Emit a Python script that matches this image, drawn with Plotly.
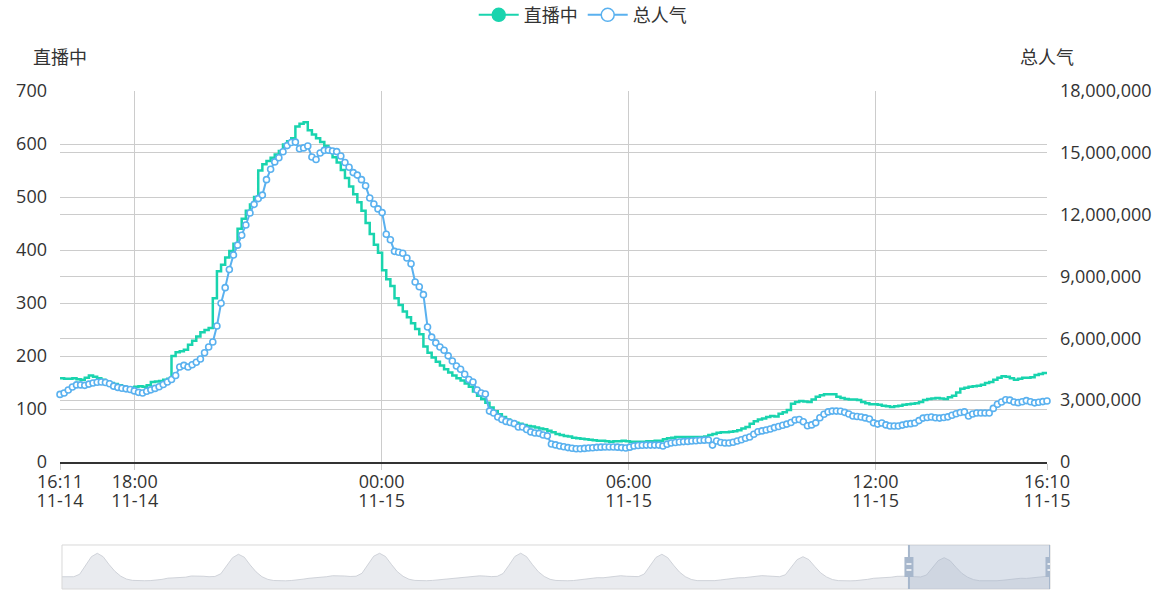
import pandas as pd
import plotly.graph_objects as go

# ---------------- data ----------------
series_names = ["直播中", "总人气"]
start_time = "2019-11-14 16:11"
end_time = "2019-11-15 16:10"

live_count = [
    158, 158, 157, 157, 158, 156, 155, 159, 163, 161,
    158, 155, 152, 149, 147, 145, 143, 141, 140, 142,
    143, 142, 145, 151, 152, 153, 155, 157, 200, 207,
    209, 212, 221, 229, 237, 245, 249, 253, 309, 360,
    372, 386, 398, 412, 440, 459, 474, 486, 500, 550,
    562, 568, 574, 580, 587, 599, 605, 611, 633, 638,
    641, 626, 618, 611, 604, 596, 585, 575, 565, 551,
    536, 520, 505, 490, 474, 451, 430, 410, 395, 362,
    345, 332, 309, 296, 284, 273, 262, 251, 241, 218,
    206, 197, 189, 182, 175, 169, 163, 158, 154, 148,
    142, 133, 125, 119, 112, 103, 96, 90, 85, 80,
    76, 74, 72, 70, 68, 67, 65, 63, 62, 59,
    56, 53, 51, 49, 48, 46, 45, 44, 43, 42,
    41, 40, 40, 39, 38, 39, 39, 40, 39, 38,
    38, 38, 38, 39, 39, 40, 40, 43, 45, 46,
    47, 47, 47, 47, 47, 47, 47, 48, 51, 53,
    55, 56, 56, 57, 58, 60, 63, 66, 72, 77,
    80, 82, 85, 87, 86, 91, 94, 98, 110, 113,
    115, 114, 113, 118, 123, 126, 128, 128, 128, 123,
    121, 119, 118, 118, 117, 113, 111, 109, 109, 108,
    106, 105, 104, 105, 106, 108, 109, 110, 111, 113,
    117, 119, 120, 121, 120, 119, 122, 125, 131, 138,
    140, 142, 143, 144, 146, 149, 151, 155, 159, 162,
    161, 158, 155, 157, 159, 159, 160, 164, 166, 168,
]

# 总人气, in millions
popularity_m = [
    3.28, 3.35, 3.49, 3.64, 3.74, 3.74, 3.72, 3.78, 3.83, 3.87,
    3.88, 3.86, 3.80, 3.68, 3.62, 3.58, 3.55, 3.52, 3.45, 3.38,
    3.35, 3.43, 3.50, 3.57, 3.65, 3.76, 3.88, 4.00, 4.20, 4.61,
    4.69, 4.61, 4.72, 4.84, 5.00, 5.30, 5.58, 5.82, 6.60, 7.70,
    8.46, 9.34, 10.04, 10.52, 11.00, 11.50, 12.08, 12.50, 12.78, 12.95,
    13.70, 14.20, 14.56, 14.76, 15.05, 15.35, 15.50, 15.52, 15.20, 15.24,
    15.33, 14.80, 14.68, 14.99, 15.12, 15.13, 15.09, 15.06, 14.85, 14.53,
    14.30, 14.04, 13.92, 13.70, 13.40, 12.81, 12.52, 12.28, 12.10, 11.05,
    10.78, 10.22, 10.18, 10.13, 9.90, 9.62, 8.73, 8.50, 8.12, 6.55,
    6.06, 5.78, 5.58, 5.42, 5.15, 4.90, 4.66, 4.50, 4.26, 4.00,
    3.88, 3.49, 3.35, 3.30, 2.47, 2.38, 2.18, 2.06, 1.97, 1.92,
    1.86, 1.70, 1.70, 1.58, 1.46, 1.41, 1.39, 1.31, 1.27, 0.87,
    0.83, 0.78, 0.74, 0.70, 0.67, 0.64, 0.64, 0.66, 0.68, 0.69,
    0.71, 0.72, 0.73, 0.73, 0.73, 0.72, 0.70, 0.68, 0.72, 0.78,
    0.80, 0.81, 0.82, 0.82, 0.82, 0.82, 0.78, 0.86, 0.92, 0.95,
    0.97, 0.99, 1.00, 1.02, 1.03, 1.05, 1.06, 1.07, 0.82, 1.02,
    0.95, 0.92, 0.92, 0.96, 1.02, 1.08, 1.15, 1.21, 1.35, 1.47,
    1.51, 1.55, 1.60, 1.67, 1.72, 1.78, 1.84, 1.92, 2.04, 2.06,
    1.95, 1.76, 1.80, 1.90, 2.15, 2.32, 2.43, 2.47, 2.47, 2.46,
    2.41, 2.33, 2.23, 2.21, 2.18, 2.14, 2.09, 1.90, 1.84, 1.89,
    1.80, 1.75, 1.75, 1.75, 1.79, 1.84, 1.86, 1.89, 2.01, 2.13,
    2.16, 2.18, 2.15, 2.13, 2.16, 2.19, 2.27, 2.34, 2.40, 2.43,
    2.23, 2.33, 2.38, 2.38, 2.38, 2.38, 2.60, 2.80, 2.91, 3.02,
    3.00, 2.91, 2.88, 2.92, 2.98, 2.92, 2.87, 2.90, 2.93, 2.96,
]

# dataZoom thumbnail: seven days, hourly (read from the slider preview)
thumb_start = "2019-11-08 16:11"
thumb_values = [
    150, 148, 150, 200, 380, 560, 630, 560, 400, 260, 160, 100, 75, 68, 68, 70, 80, 95, 120, 125, 125, 140, 165, 170,
    160, 150, 155, 210, 370, 540, 610, 550, 390, 250, 150, 95, 72, 66, 66, 72, 82, 100, 118, 128, 130, 150, 170, 175,
    165, 155, 160, 220, 390, 570, 630, 565, 405, 255, 158, 98, 74, 67, 68, 74, 85, 98, 115, 125, 132, 145, 160, 168,
    162, 152, 158, 215, 385, 565, 632, 560, 398, 252, 155, 96, 73, 66, 67, 72, 86, 102, 122, 130, 128, 142, 162, 170,
    160, 150, 152, 205, 370, 545, 610, 540, 385, 245, 150, 94, 70, 65, 66, 70, 84, 100, 120, 128, 130, 145, 168, 172,
    165, 150, 150, 190, 340, 500, 560, 500, 360, 230, 145, 92, 70, 64, 65, 70, 80, 96, 118, 124, 126, 140, 158, 162,
    160, 150, 145, 185, 330, 480, 540, 480, 345, 220, 140, 90, 68, 63, 64, 68, 78, 92, 112, 118, 115, 128, 145, 160,
    165,
]

x_tick_vals = ["2019-11-14 16:11", "2019-11-14 18:00", "2019-11-15 00:00",
               "2019-11-15 06:00", "2019-11-15 12:00", "2019-11-15 16:10"]
x_tick_time = ["16:11", "18:00", "00:00", "06:00", "12:00", "16:10"]
x_tick_date = ["11-14", "11-14", "11-15", "11-15", "11-15", "11-15"]
left_ticks = [0, 100, 200, 300, 400, 500, 600, 700]
right_ticks = [0, 3000000, 6000000, 9000000, 12000000, 15000000, 18000000]

# ---------------- build ----------------
GREEN = "#19d4ae"
BLUE = "#5ab1ef"
FONT = "Open Sans, Noto Sans CJK SC, sans-serif"

times = pd.date_range(start_time, end_time, periods=len(live_count))
popularity = [v * 1e6 for v in popularity_m]
thumb_times = pd.date_range(thumb_start, end_time, periods=len(thumb_values))
thumb_floor = -102
thumb_top = 800

fig = go.Figure()

fig.add_trace(go.Scatter(
    x=times, y=live_count, name=series_names[0], mode="lines",
    line=dict(color=GREEN, width=2.5, shape="vh"),
    xaxis="x", yaxis="y", showlegend=False, cliponaxis=False,
))
fig.add_trace(go.Scatter(
    x=times, y=popularity, name=series_names[1], mode="lines+markers",
    line=dict(color=BLUE, width=2),
    marker=dict(symbol="circle", size=6, color="white", line=dict(color=BLUE, width=1.6)),
    xaxis="x", yaxis="y2", showlegend=False, cliponaxis=False,
))

# legend entries
fig.add_trace(go.Scatter(
    x=[None], y=[None], name=series_names[0], mode="lines+markers",
    line=dict(color=GREEN, width=2),
    marker=dict(symbol="circle", size=13, color=GREEN, line=dict(color=GREEN, width=1.5)),
    xaxis="x", yaxis="y",
))
fig.add_trace(go.Scatter(
    x=[None], y=[None], name=series_names[1], mode="lines+markers",
    line=dict(color=BLUE, width=2),
    marker=dict(symbol="circle", size=13, color="white", line=dict(color=BLUE, width=1.5)),
    xaxis="x", yaxis="y",
))

# thumbnail in slider
fig.add_trace(go.Scatter(
    x=thumb_times, y=[thumb_floor] * len(thumb_values), mode="lines",
    line=dict(width=0), xaxis="x2", yaxis="y3", showlegend=False, hoverinfo="skip",
))
fig.add_trace(go.Scatter(
    x=thumb_times, y=thumb_values, mode="lines", fill="tonexty",
    fillcolor="rgba(226,228,233,0.75)",
    line=dict(color="#c6cad2", width=0.8), xaxis="x2", yaxis="y3",
    showlegend=False, hoverinfo="skip",
))

GRID = "#cccccc"
fig.update_layout(
    width=1167, height=600,
    margin=dict(l=60, r=117, t=91, b=10, autoexpand=False),
    paper_bgcolor="white", plot_bgcolor="white",
    font=dict(family=FONT, size=18, color="#333"),
    legend=dict(orientation="h", x=0.528, xanchor="center", y=1.152, yanchor="middle",
                traceorder="normal", itemwidth=40,
                font=dict(size=18, color="#333"), bgcolor="rgba(0,0,0,0)"),
    xaxis=dict(
        domain=[0, 0.99697], type="date", range=[start_time, end_time],
        tickmode="array", tickvals=x_tick_vals, ticktext=x_tick_time,
        showgrid=True, gridcolor=GRID, gridwidth=1,
        showline=True, linecolor="#333", linewidth=1.5,
        ticks="outside", ticklen=6, tickcolor=GRID, ticklabelstandoff=-3,
        zeroline=False, anchor="y", automargin=False,
        tickfont=dict(size=18, color="#333"),
    ),
    xaxis3=dict(
        overlaying="x", matches="x", side="bottom", anchor="y", type="date",
        tickmode="array", tickvals=x_tick_vals, ticktext=x_tick_date,
        showgrid=False, showline=False, zeroline=False, ticks="",
        ticklabelstandoff=26, automargin=False,
        tickfont=dict(size=18, color="#333"),
    ),
    yaxis=dict(
        domain=[0.2565, 1], range=[0, 700], tickmode="array", tickvals=left_ticks,
        showgrid=True, gridcolor=GRID, gridwidth=1, zeroline=False, showline=False,
        ticks="", ticklabelstandoff=12, anchor="x", automargin=False,
        tickfont=dict(size=18, color="#333"),
    ),
    yaxis2=dict(
        overlaying="y", side="right", range=[0, 18000000], tickmode="array",
        tickvals=right_ticks, tickformat=",.0f",
        showgrid=True, gridcolor=GRID, gridwidth=1, zeroline=False, showline=False,
        ticks="", ticklabelstandoff=12, anchor="x", automargin=False,
        tickfont=dict(size=18, color="#333"),
    ),
    xaxis2=dict(domain=[0.00202, 1], anchor="y3", type="date",
                range=[thumb_start, end_time], visible=False),
    yaxis3=dict(domain=[0.002, 0.0902], anchor="x2", range=[thumb_floor, thumb_top],
                visible=False),
    annotations=[
        dict(text=series_names[0], xref="paper", yref="paper", x=0.0, y=1.068,
             xanchor="center", yanchor="middle", showarrow=False,
             font=dict(size=18, color="#333")),
        dict(text=series_names[1], xref="paper", yref="paper", x=0.997, y=1.068,
             xanchor="center", yanchor="middle", showarrow=False,
             font=dict(size=18, color="#333")),
    ],
)

# an invisible trace so the date-row axis is drawn
fig.add_trace(go.Scatter(x=[start_time], y=[None], xaxis="x3", yaxis="y",
                         showlegend=False, hoverinfo="skip", mode="lines"))

HANDLE = "#a7b7cc"
shapes = [
    dict(type="rect", xref="x2 domain", yref="y3 domain", x0=0, x1=1, y0=0, y1=1,
         line=dict(color="#d9d9d9", width=1), fillcolor="rgba(0,0,0,0)", layer="above"),
    dict(type="rect", xref="x2", yref="y3 domain", x0=start_time, x1=end_time, y0=0, y1=1,
         line=dict(width=0), fillcolor="rgba(167,183,204,0.40)", layer="above"),
]
for hx in (start_time, end_time):
    shapes.append(dict(type="line", xref="x2", yref="y3 domain", x0=hx, x1=hx, y0=0, y1=1,
                       line=dict(color=HANDLE, width=2), layer="above"))
    shapes.append(dict(type="rect", xref="x2", yref="y3 domain", xsizemode="pixel",
                       xanchor=hx, x0=-4.5, x1=4.5, ysizemode="pixel", yanchor=0.5,
                       y0=-10, y1=10, line=dict(width=0), fillcolor=HANDLE, layer="above"))
    for dy in (-3, 3):
        shapes.append(dict(type="line", xref="x2", yref="y3 domain", xsizemode="pixel",
                           xanchor=hx, x0=-2.5, x1=2.5, ysizemode="pixel", yanchor=0.5,
                           y0=dy, y1=dy, line=dict(color="white", width=1.5), layer="above"))
fig.update_layout(shapes=shapes)

fig.write_html("out.html")
